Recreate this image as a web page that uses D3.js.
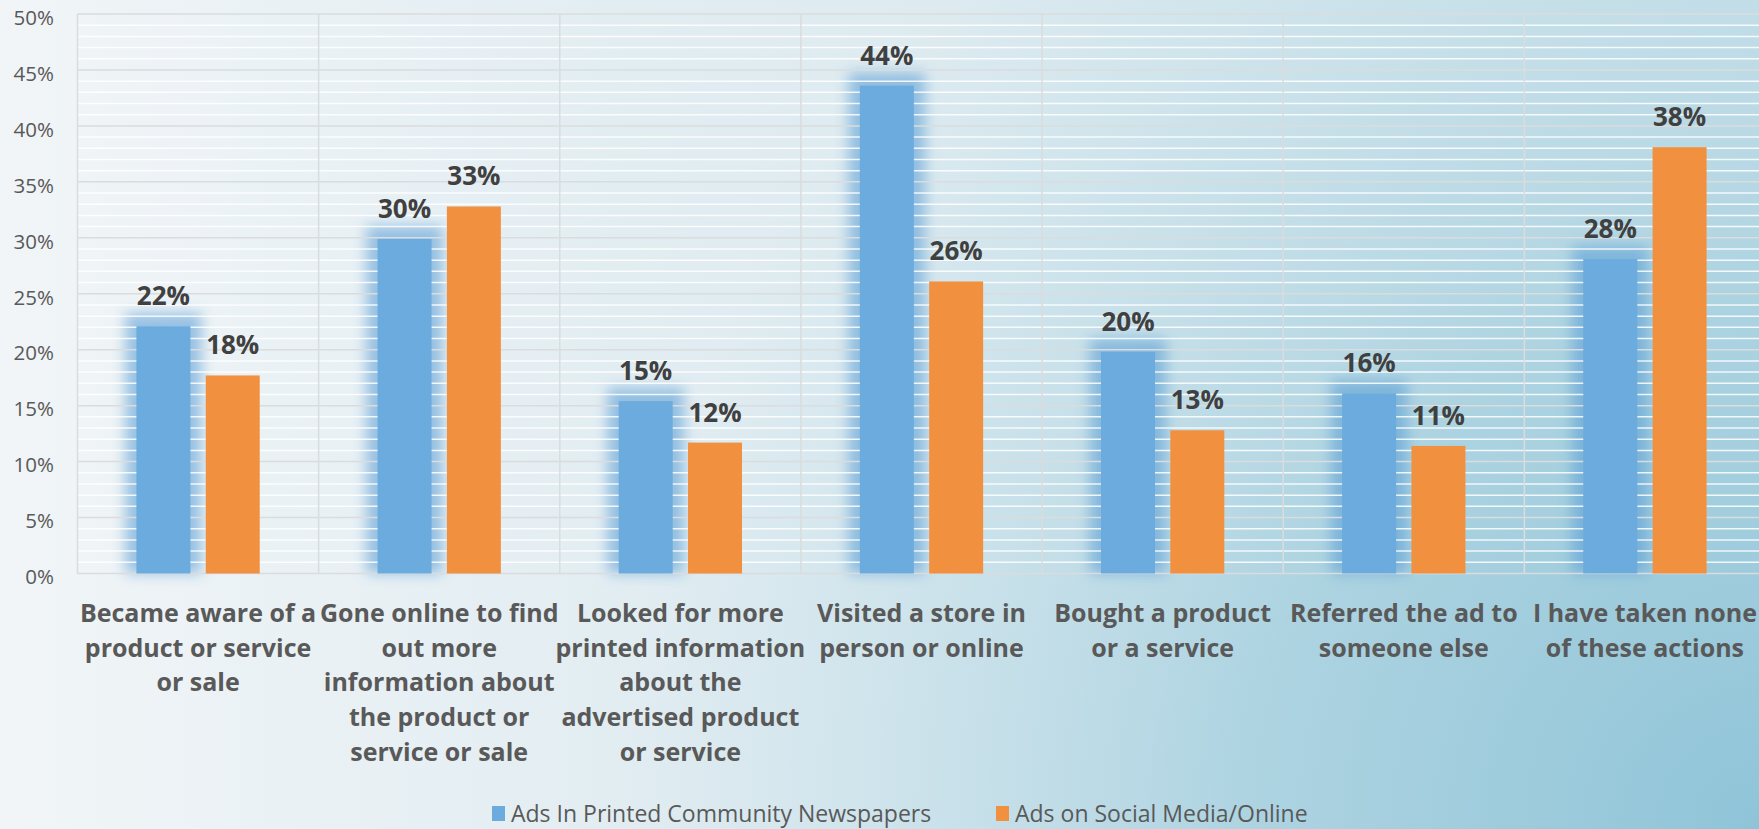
<!DOCTYPE html>
<html><head><meta charset="utf-8">
<script src="https://cdn.jsdelivr.net/npm/d3@7"></script>
<style>html,body{margin:0;padding:0;overflow:hidden;background:#eef3f6}</style>
</head><body>
<svg id="chart" width="1759" height="829"></svg>
<script>
const categories = [
  "Became aware of a product or service or sale",
  "Gone online to find out more information about the product or service or sale",
  "Looked for more printed information about the advertised product or service",
  "Visited a store in person or online",
  "Bought a product or a service",
  "Referred the ad to someone else",
  "I have taken none of these actions"
];
const categoryLines = [
  ["Became aware of a", "product or service", "or sale"],
  ["Gone online to find", "out more", "information about", "the product or", "service or sale"],
  ["Looked for more", "printed information", "about the", "advertised product", "or service"],
  ["Visited a store in", "person or online"],
  ["Bought a product", "or a service"],
  ["Referred the ad to", "someone else"],
  ["I have taken none", "of these actions"]
];
const seriesNames = ["Ads In Printed Community Newspapers", "Ads on Social Media/Online"];
const printedValues = [22.1, 29.9, 15.4, 43.6, 19.8, 16.1, 28.1];
const onlineValues  = [17.7, 32.8, 11.7, 26.1, 12.8, 11.4, 38.1];
const yTicks = [0, 5, 10, 15, 20, 25, 30, 35, 40, 45, 50];
const seriesColors = ["#6babdd", "#f19140"];

const W = 1759, H = 829;
const FONT = "'Open Sans', sans-serif";
const svg = d3.select("#chart");
const defs = svg.append("defs");

// background gradients
const lg = defs.append("linearGradient").attr("id", "bgBase").attr("x1", 0).attr("y1", 0).attr("x2", 1).attr("y2", 0);
lg.append("stop").attr("offset", 0).attr("stop-color", "#f1f5f7");
lg.append("stop").attr("offset", 0.35).attr("stop-color", "#e2edf2");
lg.append("stop").attr("offset", 1).attr("stop-color", "#d0e4eb");
const rg = defs.append("radialGradient").attr("id", "bgBlue").attr("gradientUnits", "userSpaceOnUse")
  .attr("cx", W).attr("cy", H).attr("r", 1150);
rg.append("stop").attr("offset", 0).attr("stop-color", "#8fc4d8").attr("stop-opacity", 1);
rg.append("stop").attr("offset", 0.45).attr("stop-color", "#9ccbdc").attr("stop-opacity", 0.7);
rg.append("stop").attr("offset", 1).attr("stop-color", "#b5d8e4").attr("stop-opacity", 0);
const blur = defs.append("filter").attr("id", "glow").attr("x", "-50%").attr("y", "-50%").attr("width", "200%").attr("height", "200%");
blur.append("feGaussianBlur").attr("stdDeviation", 7);

svg.append("rect").attr("width", W).attr("height", H).attr("fill", "url(#bgBase)");
svg.append("rect").attr("width", W).attr("height", H).attr("fill", "url(#bgBlue)");

// scales
const x = d3.scaleBand().domain(categories).range([77.5, 1765.5]).paddingInner(0).paddingOuter(0);
const xs = d3.scaleBand().domain(seriesNames).range([0, x.bandwidth()]).paddingInner(0.221).paddingOuter(0.85);
const y = d3.scaleLinear().domain([0, 50]).range([573.5, 14]);

const data = categories.map((c, i) => ({cat: c, vals: [printedValues[i], onlineValues[i]]}));

// glow behind blue bars
svg.append("g").selectAll("rect").data(data).join("rect")
  .attr("x", d => x(d.cat) + xs(seriesNames[0]) - 11)
  .attr("y", d => y(d.vals[0]) - 13)
  .attr("width", xs.bandwidth() + 22)
  .attr("height", d => y(0) - y(d.vals[0]) + 13)
  .attr("fill", "#5b9fd6").attr("opacity", 0.6)
  .attr("filter", "url(#glow)");

// grid
const grid = svg.append("g");
const minor = d3.range(0, 51).filter(v => v % 5 !== 0);
grid.selectAll("line.minor").data(minor).join("line").attr("class", "minor")
  .attr("x1", 77.5).attr("x2", 1765.5)
  .attr("y1", d => y(d)).attr("y2", d => y(d))
  .attr("stroke", "#ffffff").attr("stroke-opacity", 0.85).attr("stroke-width", 1.5);
grid.selectAll("line.major").data(yTicks).join("line").attr("class", "major")
  .attr("x1", 77.5).attr("x2", 1765.5)
  .attr("y1", d => y(d)).attr("y2", d => y(d))
  .attr("stroke", "#dadcdd").attr("stroke-width", 1.5);
const vlines = categories.map(c => x(c)).concat([x.range()[1]]);
grid.selectAll("line.v").data(vlines).join("line").attr("class", "v")
  .attr("x1", d => d).attr("x2", d => d)
  .attr("y1", y(50)).attr("y2", y(0))
  .attr("stroke", "#dadcdd").attr("stroke-width", 1.5);

// bars
const gBars = svg.append("g");
data.forEach(d => {
  seriesNames.forEach((s, j) => {
    gBars.append("rect")
      .attr("x", x(d.cat) + xs(s))
      .attr("y", y(d.vals[j]))
      .attr("width", xs.bandwidth())
      .attr("height", y(0) - y(d.vals[j]))
      .attr("fill", seriesColors[j]);
    gBars.append("text")
      .attr("x", x(d.cat) + xs(s) + xs.bandwidth() / 2)
      .attr("y", y(d.vals[j]) - 21)
      .attr("text-anchor", "middle")
      .attr("font-family", FONT).attr("font-weight", 700).attr("font-size", 26)
      .attr("fill", "#404040")
      .text(Math.round(d.vals[j]) + "%");
  });
});

// y axis labels
const yAxis = d3.axisLeft(y).tickValues(yTicks).tickFormat(d => d + "%").tickSize(0).tickPadding(0);
const ya = svg.append("g").attr("transform", "translate(54,0)").call(yAxis);
ya.select(".domain").remove();
ya.selectAll("text").attr("font-family", FONT).attr("font-size", 20.5)
  .attr("fill", "#595959").attr("dy", "0.5em");

// category labels
const xl = svg.append("g");
data.forEach((d, i) => {
  const t = xl.append("text")
    .attr("text-anchor", "middle")
    .attr("font-family", FONT).attr("font-weight", 700).attr("font-size", 25)
    .attr("fill", "#595959");
  categoryLines[i].forEach((ln, k) => {
    t.append("tspan").attr("x", x(d.cat) + x.bandwidth() / 2).attr("y", 622 + k * 34.7).text(ln);
  });
});

// legend
const legendX = [492, 996];
const lgG = svg.append("g");
seriesNames.forEach((s, j) => {
  lgG.append("rect").attr("x", legendX[j]).attr("y", 806).attr("width", 13).attr("height", 15).attr("fill", seriesColors[j]);
  lgG.append("text").attr("x", legendX[j] + 19).attr("y", 821.5)
    .attr("font-family", FONT).attr("font-size", 23).attr("fill", "#595959").text(s);
});
</script>
</body></html>
